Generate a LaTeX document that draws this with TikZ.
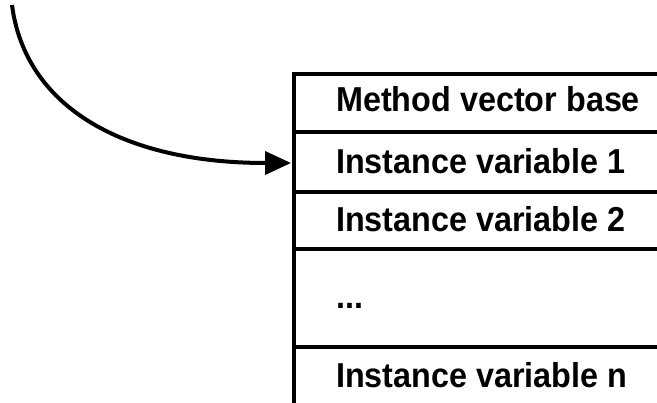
\documentclass[tikz,border=0pt]{standalone}
\usepackage{graphicx}
\usepackage{fontspec}
\setmainfont{Liberation Sans}
\usetikzlibrary{arrows.meta}
\newcommand{\celltxt}[1]{\scalebox{0.935}[1]{#1}}
\begin{document}
\begin{tikzpicture}[x=1pt,y=-1pt,
  rule/.style={line width=4pt},
  celltext/.style={anchor=base west,inner sep=0pt,font=\bfseries\fontsize{34.6}{36}\selectfont},
  pointer/.style={line width=4pt,-{Triangle[length=26pt,width=23pt]}}]
\useasboundingbox (0,0) rectangle (657,403);
% table frame
\draw[rule] (294,72) -- (294,403);
\foreach \y in {74,132,192,249,347} \draw[rule] (294,\y) -- (657,\y);
% texts
\node[celltext] (mvb) at (336,112) {\celltxt{Method vector base}};
\node[celltext] (iv1) at (336,174) {\celltxt{Instance variable 1}};
\node[celltext] (iv2) at (336,232) {\celltxt{Instance variable 2}};
\node[celltext] (dots) at (336,309) {\celltxt{...}};
\node[celltext] (ivn) at (336,388) {\celltxt{Instance variable n}};
% pointer
\coordinate (src) at (12,5);
\coordinate (dst) at (291,163);
\draw[pointer] (src) .. controls (25,105) and (120,163) .. (dst);
\end{tikzpicture}
\end{document}
